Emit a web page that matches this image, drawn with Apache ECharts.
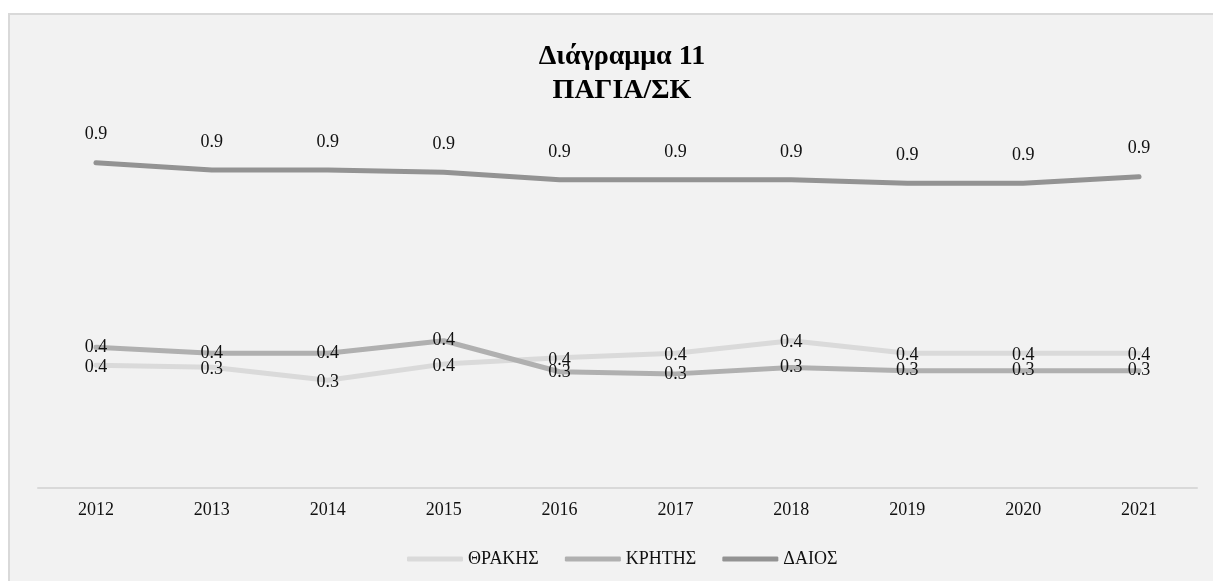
<!DOCTYPE html>
<html>
<head>
<meta charset="utf-8">
<script src="https://cdn.jsdelivr.net/npm/echarts@6/dist/echarts.min.js"></script>
<style>
  html, body { margin: 0; padding: 0; background: #ffffff; }
  #chart { width: 1213px; height: 581px; }
</style>
</head>
<body>
<div id="chart"></div>
<script>
// Fixed assets / equity ratio by region, 2012-2021
const years = ['2012', '2013', '2014', '2015', '2016', '2017', '2018', '2019', '2020', '2021'];
const thrakis = [0.352, 0.346, 0.309, 0.355, 0.373, 0.386, 0.422, 0.386, 0.386, 0.386];
const kritis  = [0.403, 0.386, 0.386, 0.422, 0.333, 0.327, 0.345, 0.336, 0.336, 0.336];
const daios   = [0.932, 0.911, 0.911, 0.905, 0.883, 0.883, 0.883, 0.873, 0.873, 0.892];
const seriesNames = ['ΘΡΑΚΗΣ', 'ΚΡΗΤΗΣ', 'ΔΑΙΟΣ'];
const titleLines = ['Διάγραμμα 11', 'ΠΑΓΙΑ/ΣΚ'];

const FONT = "'Liberation Serif', 'Times New Roman', serif";
const fmt = p => Number(p.value).toFixed(1);

function lineSeries(name, data, color, labelOffset) {
  return {
    name: name,
    type: 'line',
    data: data,
    symbol: 'circle',
    symbolSize: 1,
    itemStyle: { color: color },
    lineStyle: { color: color, width: 5, cap: 'round', join: 'round' },
    label: {
      show: true,
      position: 'inside',
      offset: labelOffset,
      formatter: fmt,
      fontFamily: FONT,
      fontSize: 18,
      color: '#111111'
    },
    emphasis: { disabled: true },
    animation: false
  };
}

const chart = echarts.init(document.getElementById('chart'), null, { renderer: 'canvas' });
chart.setOption({
  backgroundColor: '#ffffff',
  graphic: [{
    type: 'rect',
    z: -10,
    silent: true,
    shape: { x: 9, y: 14, width: 1240, height: 620 },
    style: { fill: '#f2f2f2', stroke: '#d9d9d9', lineWidth: 2 }
  }],
  title: {
    text: titleLines.join('\n'),
    left: 617,
    top: 35,
    textAlign: 'center',
    textStyle: {
      fontFamily: FONT,
      fontWeight: 'bold',
      fontSize: 28,
      lineHeight: 34,
      color: '#000000'
    }
  },
  legend: {
    data: seriesNames,
    left: 402,
    top: 545,
    icon: 'roundRect',
    itemWidth: 56,
    itemHeight: 5,
    itemGap: 26,
    textStyle: { fontFamily: FONT, fontSize: 18, color: '#111111' }
  },
  grid: { left: 38, right: 16, top: 139, bottom: 93, containLabel: false },
  xAxis: {
    type: 'category',
    data: years,
    boundaryGap: true,
    axisLine: { show: true, lineStyle: { color: '#d9d9d9', width: 2 } },
    axisTick: { show: false },
    axisLabel: { fontFamily: FONT, fontSize: 18, color: '#111111', margin: 13 },
    splitLine: { show: false }
  },
  yAxis: {
    type: 'value',
    min: 0,
    max: 1,
    show: false,
    splitLine: { show: false }
  },
  series: [
    lineSeries(seriesNames[0], thrakis, '#dadada', [0, 2]),
    lineSeries(seriesNames[1], kritis, '#b0b0b0', [0, 0]),
    lineSeries(seriesNames[2], daios, '#939393', [0, -28])
  ]
});
</script>
</body>
</html>
